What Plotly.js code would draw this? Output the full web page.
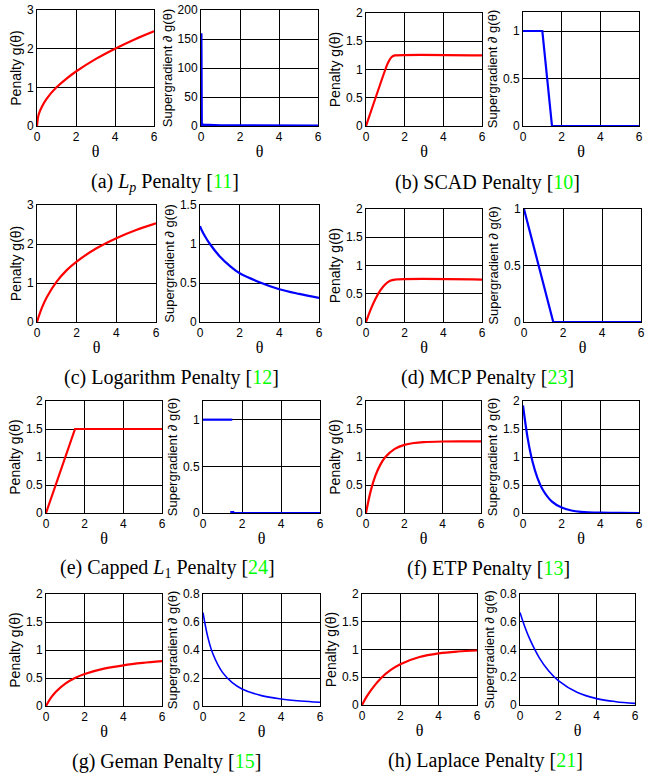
<!DOCTYPE html>
<html><head><meta charset="utf-8">
<script src="https://cdn.plot.ly/plotly-3.0.1.min.js"></script>
<style>html,body{margin:0;padding:0;background:#fff}</style>
</head><body><div id="chart" style="width:650px;height:775px"></div>
<script>
// ---- data ----
const thetaA = [0, 0.05, 0.1, 0.25, 0.5, 1, 1.5, 2, 3, 4, 5, 6];
const penA = [0, 0.22, 0.32, 0.5, 0.71, 1, 1.22, 1.41, 1.73, 2, 2.24, 2.45];
const thetaAd = [0, 0, 0.02, 0.1, 0.5, 1, 2, 4, 6];
const supA = [0, 160, 3.5, 1.6, 0.7, 0.5, 0.35, 0.25, 0.2];

const thetaB = [0, 1, 1.1, 1.2, 1.3, 1.4, 1.5, 6];
const penB = [0, 1, 1.09, 1.16, 1.21, 1.24, 1.25, 1.25];
const thetaBd = [0, 1, 1.5, 6];
const supB = [1, 1, 0, 0];

const thetaC = [0, 0.1, 0.25, 0.5, 1, 1.5, 2, 3, 4, 5, 6];
const penC = [0, 0.16, 0.37, 0.64, 1.04, 1.33, 1.55, 1.89, 2.15, 2.36, 2.53];
const supC = [1.23, 1.17, 1.1, 1.0, 0.84, 0.72, 0.625, 0.51, 0.42, 0.36, 0.31];

const thetaD = [0, 0.25, 0.5, 0.75, 1, 1.25, 1.5, 6];
const penD = [0, 0.229, 0.417, 0.5625, 0.667, 0.729, 0.75, 0.75];
const thetaDd = [0, 1.5, 6];
const supD = [1, 0, 0];

const thetaE = [0, 1.5, 6];
const penE = [0, 1.5, 1.5];
const thetaEd = [0, 1.5, null, 1.5, 6];
const supE = [1, 1, null, 0, 0];

const thetaF = [0, 0.25, 0.5, 0.75, 1, 1.5, 2, 2.5, 3, 4, 5, 6];
const penF = [0, 0.40, 0.675, 0.864, 0.995, 1.145, 1.216, 1.25, 1.266, 1.277, 1.28, 1.28];
const supF = [1.92, 1.32, 0.906, 0.624, 0.428, 0.202, 0.096, 0.045, 0.021, 0.005, 0.001, 0];

const thetaG = [0, 0.25, 0.5, 1, 1.5, 2, 3, 4, 5, 6];
const penG = [0, 0.143, 0.25, 0.4, 0.5, 0.571, 0.667, 0.727, 0.769, 0.8];
const supG = [0.667, 0.49, 0.375, 0.24, 0.167, 0.122, 0.074, 0.05, 0.036, 0.027];

const thetaH = [0, 0.25, 0.5, 1, 1.5, 2, 3, 4, 5, 6];
const penH = [0, 0.154, 0.283, 0.487, 0.632, 0.736, 0.865, 0.931, 0.964, 0.982];
const supH = [0.667, 0.564, 0.478, 0.342, 0.245, 0.176, 0.09, 0.046, 0.024, 0.012];

const xTicks = [0, 2, 4, 6];
const captions = [
  '(a) <i>L</i><sub><i>p</i></sub> Penalty [<span style="color:#00ff00">11</span>]',
  '(b) SCAD Penalty [<span style="color:#00ff00">10</span>]',
  '(c) Logarithm Penalty [<span style="color:#00ff00">12</span>]',
  '(d) MCP Penalty [<span style="color:#00ff00">23</span>]',
  '(e) Capped <i>L</i><sub>1</sub> Penalty [<span style="color:#00ff00">24</span>]',
  '(f) ETP Penalty [<span style="color:#00ff00">13</span>]',
  '(g) Geman Penalty [<span style="color:#00ff00">15</span>]',
  '(h) Laplace Penalty [<span style="color:#00ff00">21</span>]'
];

// ---- layout ----
const W = 650, H = 775;
const boxes = [
  [37,154,10,126],[201,318,10,126],[366,482,13,126],[523,639,12,126],
  [37,156,205,322],[200,319,205,322],[366,482,209,322],[524,641,209,322],
  [46,162,401,513],[203,320,401,513],[366,481,401,513],[523,639,401,513],
  [46,162,594,706],[203,320,594,706],[362,477,594,705],[520,635,594,705]
];
const yRanges = [[0,3],[0,200],[0,2],[0,1.2],[0,3],[0,1.5],[0,2],[0,1],
                 [0,2],[0,1.2],[0,2],[0,2],[0,2],[0,0.8],[0,2],[0,0.8]];
const yDticks = [1,50,0.5,0.5,1,0.5,0.5,0.5,0.5,0.5,0.5,0.5,0.5,0.2,0.5,0.2];

const series = [
  [thetaA, penA, 'spline'], [thetaAd, supA, 'linear'],
  [thetaB, penB, 'spline'], [thetaBd, supB, 'linear'],
  [thetaC, penC, 'spline'], [thetaC, supC, 'spline'],
  [thetaD, penD, 'spline'], [thetaDd, supD, 'linear'],
  [thetaE, penE, 'linear'], [thetaEd, supE, 'linear'],
  [thetaF, penF, 'spline'], [thetaF, supF, 'spline'],
  [thetaG, penG, 'spline'], [thetaG, supG, 'spline'],
  [thetaH, penH, 'spline'], [thetaH, supH, 'spline']
];

const traces = [];
const layout = {
  width: W, height: H, margin: {l:0, r:0, t:0, b:0},
  paper_bgcolor: '#fff', plot_bgcolor: '#fff', showlegend: false,
  annotations: []
};
const tickFont = {family: 'Liberation Sans, Arial', size: 12, color: '#000'};
for (let i = 0; i < 16; i++) {
  const n = i + 1;
  const sfx = n === 1 ? '' : String(n);
  const b = boxes[i];
  const isPen = i % 2 === 0;
  const s = series[i];
  let w = 2.2;
  if (i >= 12 && !isPen) w = 1.6;
  if (i === 1) w = 3;
  traces.push({
    x: s[0], y: s[1], type: 'scatter', mode: 'lines',
    xaxis: 'x' + sfx, yaxis: 'y' + sfx, connectgaps: false,
    line: {color: isPen ? '#ff0000' : '#0000ff', width: w, shape: s[2], smoothing: 1},
    hoverinfo: 'skip'
  });
  layout['xaxis' + sfx] = {
    domain: [b[0]/W, b[1]/W], anchor: 'y' + sfx, range: [0, 6], tickvals: xTicks,
    showgrid: true, gridcolor: '#000', gridwidth: 1, zeroline: false,
    showline: true, linecolor: '#000', linewidth: 1, mirror: true, layer: 'below traces',
    ticks: '', tickfont: tickFont, fixedrange: true,
    title: {text: 'θ', font: {family: 'Liberation Serif, Times New Roman', size: 16, color: '#000'}, standoff: 2}
  };
  layout['yaxis' + sfx] = {
    domain: [1 - b[3]/H, 1 - b[2]/H], anchor: 'x' + sfx, range: yRanges[i], dtick: yDticks[i], tick0: 0,
    showgrid: true, gridcolor: '#000', gridwidth: 1, zeroline: false,
    showline: true, linecolor: '#000', linewidth: 1, mirror: true, layer: 'below traces',
    ticks: '', tickfont: tickFont, fixedrange: true,
    title: {text: isPen ? 'Penalty g(θ)' : 'Supergradient <i>∂</i> g(θ)',
            font: {family: 'Liberation Sans, Arial', size: isPen ? 14 : 13, color: '#000'}, standoff: 2}
  };
}
// small marker on capped L1 supergradient jump
traces.push({x: [thetaE[1]], y: [supE[3]], type: 'scatter', mode: 'markers', xaxis: 'x10', yaxis: 'y10',
  marker: {color: '#0000ff', size: 4, symbol: 'square'}, hoverinfo: 'skip'});

const capPos = [[165,182],[487,182],[171,377],[487,377],[167,568],[488,568],[166,761],[485,760]];
for (let k = 0; k < 8; k++) {
  layout.annotations.push({
    xref: 'paper', yref: 'paper', x: capPos[k][0]/W, y: 1 - capPos[k][1]/H,
    xanchor: 'center', yanchor: 'middle', showarrow: false, text: captions[k],
    font: {family: 'Liberation Serif, Times New Roman', size: 20, color: '#000'}
  });
}
Plotly.newPlot('chart', traces, layout, {staticPlot: true});
</script></body></html>
